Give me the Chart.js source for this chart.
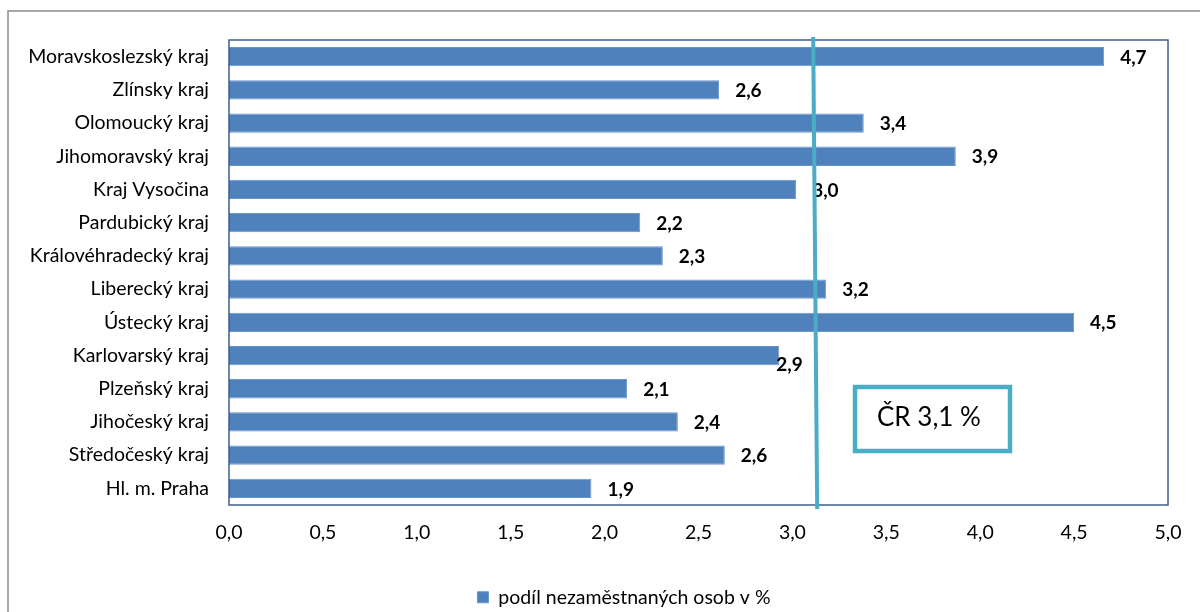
<!DOCTYPE html>
<html>
<head>
<meta charset="utf-8">
<script src="https://cdn.jsdelivr.net/npm/chart.js@4/dist/chart.umd.min.js"></script>
<style>
  html, body { margin: 0; padding: 0; background: #fff; }
  #wrap { width: 1200px; height: 612px; }
</style>
</head>
<body>
<div id="wrap"><canvas id="unemploymentChart" width="1200" height="612"></canvas></div>
<script>
// regions from top to bottom as shown in the chart
const regions = [
    'Moravskoslezský kraj', 'Zlínsky kraj', 'Olomoucký kraj', 'Jihomoravský kraj',
    'Kraj Vysočina', 'Pardubický kraj', 'Královéhradecký kraj', 'Liberecký kraj',
    'Ústecký kraj', 'Karlovarský kraj', 'Plzeňský kraj', 'Jihočeský kraj',
    'Středočeský kraj', 'Hl. m. Praha'
];
// podíl nezaměstnaných osob v %
const shareValues = [4.66, 2.61, 3.38, 3.87, 3.02, 2.19, 2.31, 3.18, 4.50, 2.93, 2.12, 2.39, 2.64, 1.93];
const xTicks = [0, 0.5, 1, 1.5, 2, 2.5, 3, 3.5, 4, 4.5, 5];
const crAverage = 3.1;
const seriesName = 'podíl nezaměstnaných osob v %';

const fontFamily = 'Lato, "Open Sans", sans-serif';
const czNumber = (v) => v.toFixed(1).replace('.', ',');

// white background + thin grey outer border of the chart object
const frameBackground = {
    id: 'frameBackground',
    beforeDraw(chart) {
        const ctx = chart.ctx;
        ctx.save();
        ctx.fillStyle = '#fff';
        ctx.fillRect(0, 0, chart.width, chart.height);
        ctx.strokeStyle = '#8c8c8c';
        ctx.lineWidth = 1.5;
        ctx.beginPath();
        ctx.moveTo(8, chart.height);
        ctx.lineTo(8, 11);
        ctx.lineTo(chart.width, 11);
        ctx.stroke();
        ctx.restore();
    },
    afterDraw(chart) {
        // plot area frame
        const { ctx, chartArea } = chart;
        ctx.save();
        ctx.strokeStyle = '#3b5f8c';
        ctx.lineWidth = 1.5;
        ctx.strokeRect(chartArea.left, chartArea.top, chartArea.right - chartArea.left, chartArea.bottom - chartArea.top);
        ctx.restore();
    }
};

// legend in the original sits a bit right of the canvas centre
const legendShift = {
    id: 'legendShift',
    afterLayout(chart) {
        if (chart.legend) chart.legend.left += 80;
    }
};

// bold value labels next to the bars
const valueLabels = {
    id: 'valueLabels',
    afterDatasetsDraw(chart) {
        const ctx = chart.ctx;
        const meta = chart.getDatasetMeta(0);
        ctx.save();
        ctx.font = 'bold 19px ' + fontFamily;
        ctx.fillStyle = '#000';
        ctx.textAlign = 'left';
        ctx.textBaseline = 'middle';
        meta.data.forEach((bar, i) => {
            let dx = 16, dy = 1;
            if (regions[i] === 'Karlovarský kraj') { dx = -3; dy = 9; }
            ctx.fillText(czNumber(shareValues[i]), bar.x + dx, bar.y + dy);
        });
        ctx.restore();
    }
};

// national average line and its text box
const averageMarker = {
    id: 'averageMarker',
    afterDraw(chart) {
        const { ctx, chartArea, scales } = chart;
        const x = scales.x.getPixelForValue(crAverage);
        ctx.save();
        ctx.strokeStyle = '#4bacc6';
        ctx.lineWidth = 4;
        ctx.beginPath();
        ctx.moveTo(x + 2, chartArea.top - 3);
        ctx.lineTo(x + 6, chartArea.bottom + 4);
        ctx.stroke();

        const bx = chartArea.left + 626, by = 387, bw = 155, bh = 64;
        ctx.lineWidth = 4.5;
        ctx.fillStyle = '#fff';
        ctx.fillRect(bx, by, bw, bh);
        ctx.strokeRect(bx, by, bw, bh);
        ctx.fillStyle = '#000';
        ctx.font = '26px ' + fontFamily;
        ctx.textAlign = 'left';
        ctx.textBaseline = 'alphabetic';
        ctx.fillText('ČR ' + czNumber(crAverage) + ' %', bx + 22, by + 39);
        ctx.restore();
    }
};

new Chart(document.getElementById('unemploymentChart'), {
    type: 'bar',
    data: {
        labels: regions,
        datasets: [{
            label: seriesName,
            data: shareValues,
            backgroundColor: '#4f81bd',
            borderColor: '#6a96cc',
            borderWidth: 1,
            categoryPercentage: 1,
            barPercentage: 0.58
        }]
    },
    options: {
        indexAxis: 'y',
        responsive: false,
        animation: false,
        devicePixelRatio: 1,
        layout: { padding: { left: 0, right: 32, top: 40, bottom: -5 } },
        scales: {
            x: {
                min: 0,
                max: 5,
                afterBuildTicks(scale) {
                    scale.ticks = xTicks.map(v => ({ value: v }));
                },
                afterFit(scale) { scale.height = 80.5; },
                grid: { display: false, drawTicks: false },
                border: { display: false },
                ticks: {
                    padding: 16,
                    color: '#000',
                    font: { family: fontFamily, size: 19.5 },
                    callback: (v) => czNumber(v)
                }
            },
            y: {
                afterFit(scale) { scale.width = 229; },
                grid: { display: false, drawTicks: false },
                border: { display: false },
                ticks: {
                    padding: 20,
                    color: '#000',
                    font: { family: fontFamily, size: 19.5 }
                }
            }
        },
        plugins: {
            legend: {
                position: 'bottom',
                labels: {
                    boxWidth: 11,
                    boxHeight: 11,
                    padding: 2,
                    color: '#000',
                    font: { family: fontFamily, size: 19.5 }
                }
            },
            tooltip: { enabled: false }
        }
    },
    plugins: [frameBackground, legendShift, valueLabels, averageMarker]
});
</script>
</body>
</html>
